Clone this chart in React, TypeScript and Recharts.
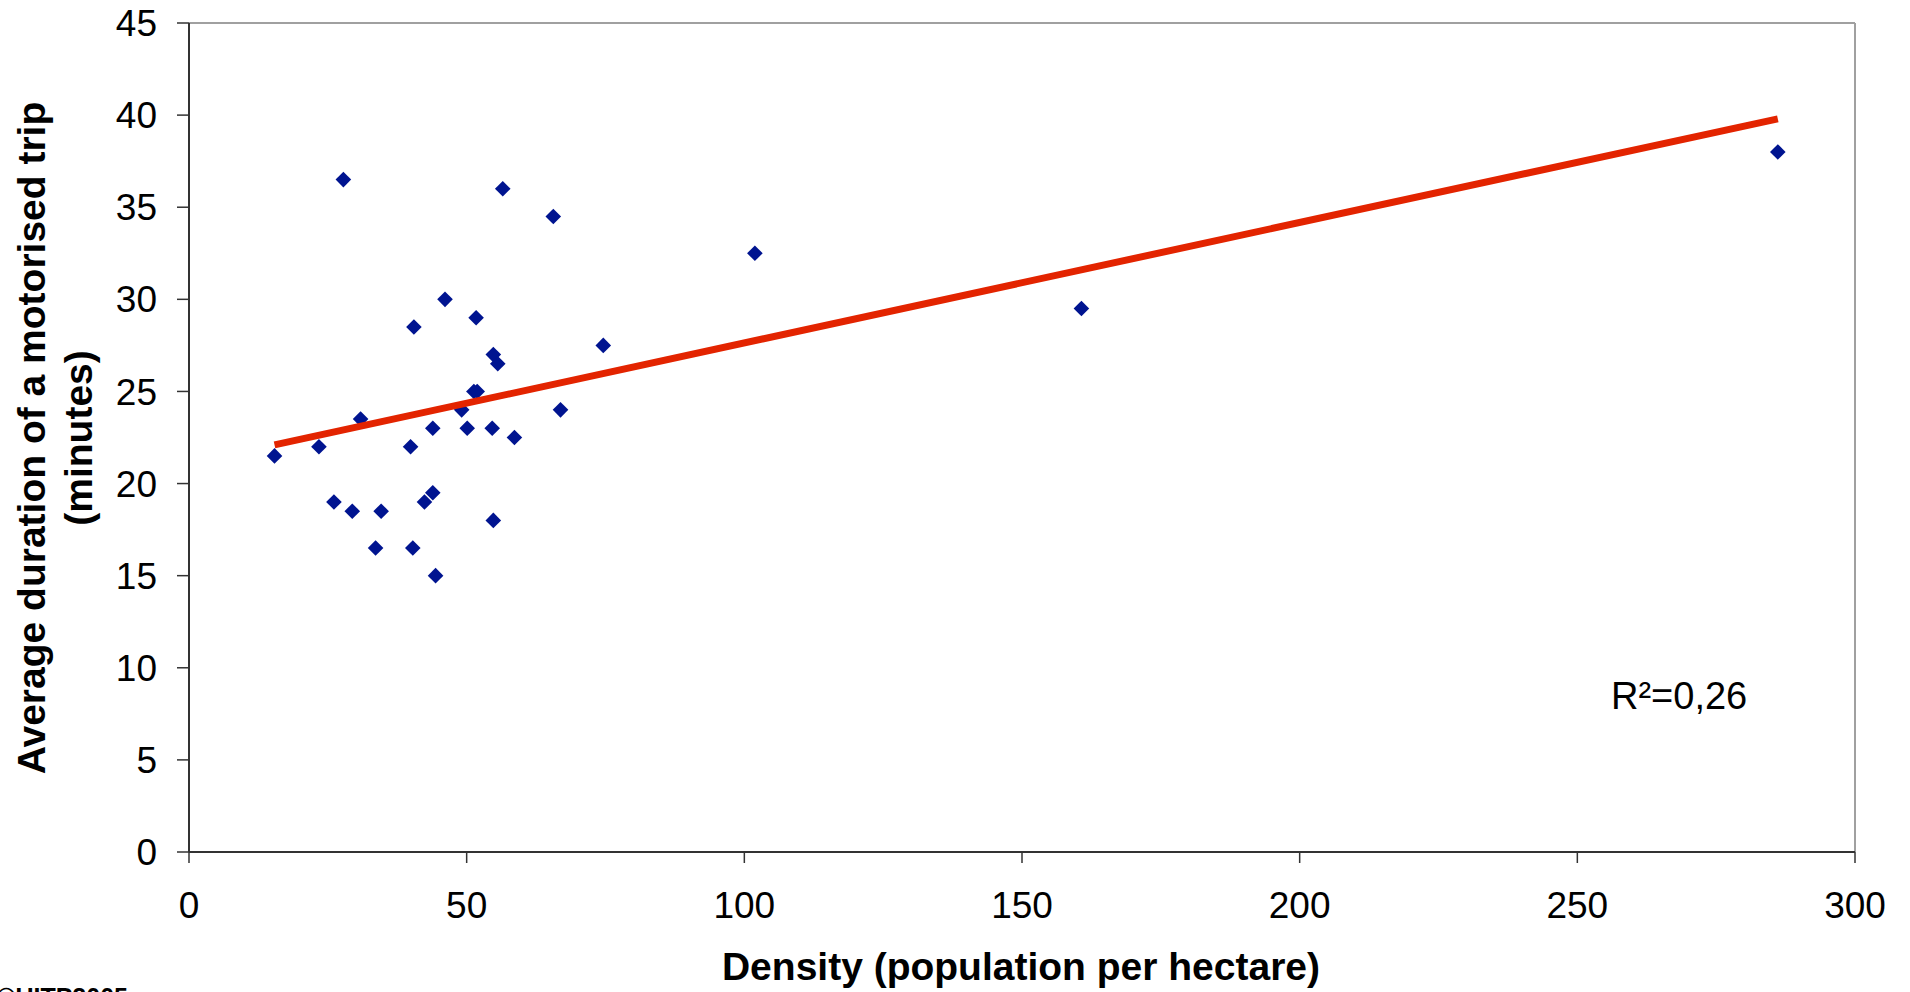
import React from "react";
import {
  ComposedChart,
  Scatter,
  XAxis,
  YAxis,
  ReferenceLine,
  Customized,
} from "recharts";

// density (population per hectare) for each city
const density = [
  27.8, 56.5, 65.6, 46.1, 51.7, 40.5, 74.6, 54.8, 55.6, 51.3, 51.9, 49.1, 30.9,
  66.9, 43.9, 50.1, 54.6, 58.6, 23.4, 39.9, 15.4, 43.9, 42.4, 26.1, 29.4, 34.6,
  54.8, 33.6, 40.3, 44.4, 101.9, 160.7, 286.1,
];

// average duration of a motorised trip (minutes)
const duration = [
  36.5, 36, 34.5, 30, 29, 28.5, 27.5, 27, 26.5, 25, 25, 24, 23.5, 24, 23, 23,
  23, 22.5, 22, 22, 21.5, 19.5, 19, 19, 18.5, 18.5, 18, 16.5, 16.5, 15, 32.5,
  29.5, 38,
];

// linear trend end points
const trendX = [15.4, 286.1];
const trendY = [22.1, 39.8];

const xTicks = [0, 50, 100, 150, 200, 250, 300];
const yTicks = [0, 5, 10, 15, 20, 25, 30, 35, 40, 45];

const points = density.map((d, i) => ({ x: d, y: duration[i] }));
const trend = trendX.map((d, i) => ({ x: d, y: trendY[i] }));

const FONT = "'Liberation Sans', Arial, Helvetica, sans-serif";

const Diamond = (props: any) => {
  const { cx, cy } = props;
  const r = 7.8;
  return (
    <polygon
      points={`${cx},${cy - r} ${cx + r},${cy} ${cx},${cy + r} ${cx - r},${cy}`}
      fill="#001490"
    />
  );
};

const NoDot = () => <g />;

const Texts = () => (
  <g fontFamily={FONT}>
    <text x={1611} y={709} fontSize={38} fill="#000">
      R²=0,26
    </text>
    <text
      x={1021}
      y={980}
      fontSize={39}
      fontWeight="bold"
      textAnchor="middle"
      fill="#000"
    >
      Density (population per hectare)
    </text>
    <text
      transform="translate(45,438) rotate(-90)"
      fontSize={39}
      fontWeight="bold"
      textAnchor="middle"
      fill="#000"
    >
      Average duration of a motorised trip
    </text>
    <text
      transform="translate(92,438) rotate(-90)"
      fontSize={39}
      fontWeight="bold"
      textAnchor="middle"
      fill="#000"
    >
      (minutes)
    </text>
    <text x={-3} y={1006} fontSize={25} fontWeight="bold" fill="#000">
      ©UITP2005
    </text>
  </g>
);

export default function App() {
  return (
    <div style={{ position: "absolute", left: 0, top: 0, background: "#fff" }}>
      <ComposedChart
        width={1910}
        height={992}
        data={points}
        margin={{ top: 23, right: 55, bottom: 0, left: 0 }}
      >
        <XAxis
          type="number"
          dataKey="x"
          domain={[0, 300]}
          ticks={xTicks}
          height={140}
          tickSize={11}
          tickMargin={29}
          axisLine={{ stroke: "#333", strokeWidth: 2 }}
          tickLine={{ stroke: "#333", strokeWidth: 1.5 }}
          tick={{ fontSize: 37, fill: "#000", fontFamily: FONT }}
          interval={0}
        />
        <YAxis
          type="number"
          dataKey="y"
          domain={[0, 45]}
          ticks={yTicks}
          width={189}
          tickSize={12}
          tickMargin={20}
          axisLine={{ stroke: "#333", strokeWidth: 2 }}
          tickLine={{ stroke: "#333", strokeWidth: 1.5 }}
          tick={{ fontSize: 37, fill: "#000", fontFamily: FONT }}
          interval={0}
        />
        <ReferenceLine y={45} stroke="#a0a0a0" strokeWidth={2} />
        <ReferenceLine x={300} stroke="#a0a0a0" strokeWidth={2} />
        <Scatter
          data={points}
          dataKey="y"
          shape={Diamond}
          isAnimationActive={false}
        />
        <Scatter
          data={trend}
          dataKey="y"
          line={{ stroke: "#e32400", strokeWidth: 7 }}
          shape={NoDot}
          isAnimationActive={false}
        />
        <Customized component={Texts} />
      </ComposedChart>
    </div>
  );
}
